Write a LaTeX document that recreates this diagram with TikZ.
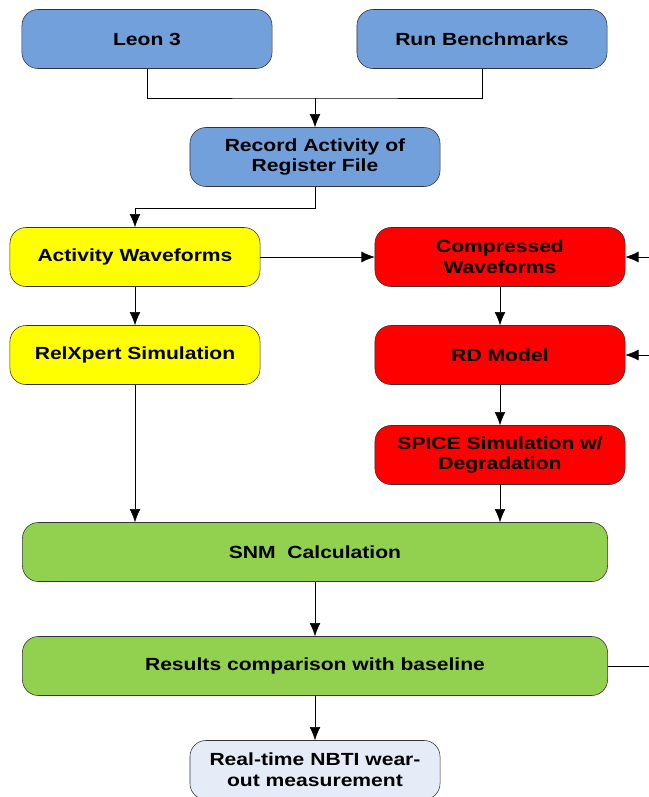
\documentclass[tikz,border=0pt]{standalone}
\usepackage{fontspec}
\setsansfont{Liberation Sans}[FakeStretch=1.2]
\usetikzlibrary{arrows.meta}
\definecolor{flowblue}{RGB}{114,160,218}
\definecolor{flowyellow}{RGB}{255,255,0}
\definecolor{flowred}{RGB}{255,0,0}
\definecolor{flowgreen}{RGB}{146,208,80}
\definecolor{flowpale}{RGB}{230,236,247}
\begin{document}
\begin{tikzpicture}[x=0.025cm, y=-0.025cm, font=\sffamily\bfseries\fontsize{12.5}{14.7}\selectfont,
  box/.style={draw=black!80, rounded corners=0.4cm, minimum width=6.25cm, minimum height=1.475cm, align=center, inner sep=0pt},
  wide/.style={box, minimum width=14.625cm},
  arr/.style={-{Latex[length=0.33cm,width=0.27cm]}}]
  \useasboundingbox (0,0) rectangle (649,797);
  \clip (0,0) rectangle (649,797);
  \node[box,fill=flowblue] (leon) at (147,39) {Leon 3};
  \node[box,fill=flowblue] (bench) at (482,39) {Run Benchmarks};
  \node[box,fill=flowblue] (record) at (315,157) {Record Activity of\\Register File};
  \node[box,fill=flowyellow] (activity) at (135,257) {Activity Waveforms};
  \node[box,fill=flowred] (compressed) at (500,257) {Compressed\\Waveforms};
  \node[box,fill=flowyellow] (relxpert) at (135,355) {RelXpert Simulation};
  \node[box,fill=flowred] (rdmodel) at (500,355) {RD Model};
  \node[box,fill=flowred] (spice) at (500,455) {SPICE Simulation w/\\Degradation};
  \node[wide,fill=flowgreen] (snm) at (315,552) {SNM~ Calculation};
  \node[wide,fill=flowgreen] (results) at (315,666) {Results comparison with baseline};
  \node[box,fill=flowpale] (nbti) at (315,770) {Real-time NBTI wear-\\out measurement};
  % merge of the two inputs
  \coordinate (join) at (315,98);
  \draw (leon.south) |- (join) -| (bench.south);
  \draw[arr] (join) -- (record.north);
  \draw[arr] (record.south) -- ++(0,21) -| (activity.north);
  \draw[arr] (activity) -- (compressed);
  \draw[arr] (activity) -- (relxpert);
  \draw[arr] (compressed) -- (rdmodel);
  \draw[arr] (rdmodel) -- (spice);
  \draw[arr] (relxpert.south) -- (relxpert.south |- snm.north);
  \draw[arr] (spice.south) -- (spice.south |- snm.north);
  \draw[arr] (snm) -- (results);
  \draw[arr] (results) -- (nbti);
  % inputs from the right edge
  \coordinate (edgeA) at (665,257);
  \coordinate (edgeB) at (665,355);
  \coordinate (edgeC) at (665,666);
  \draw[arr] (edgeA) -- (compressed.east);
  \draw[arr] (edgeB) -- (rdmodel.east);
  \draw (results.east) -- (edgeC);
\end{tikzpicture}
\end{document}
